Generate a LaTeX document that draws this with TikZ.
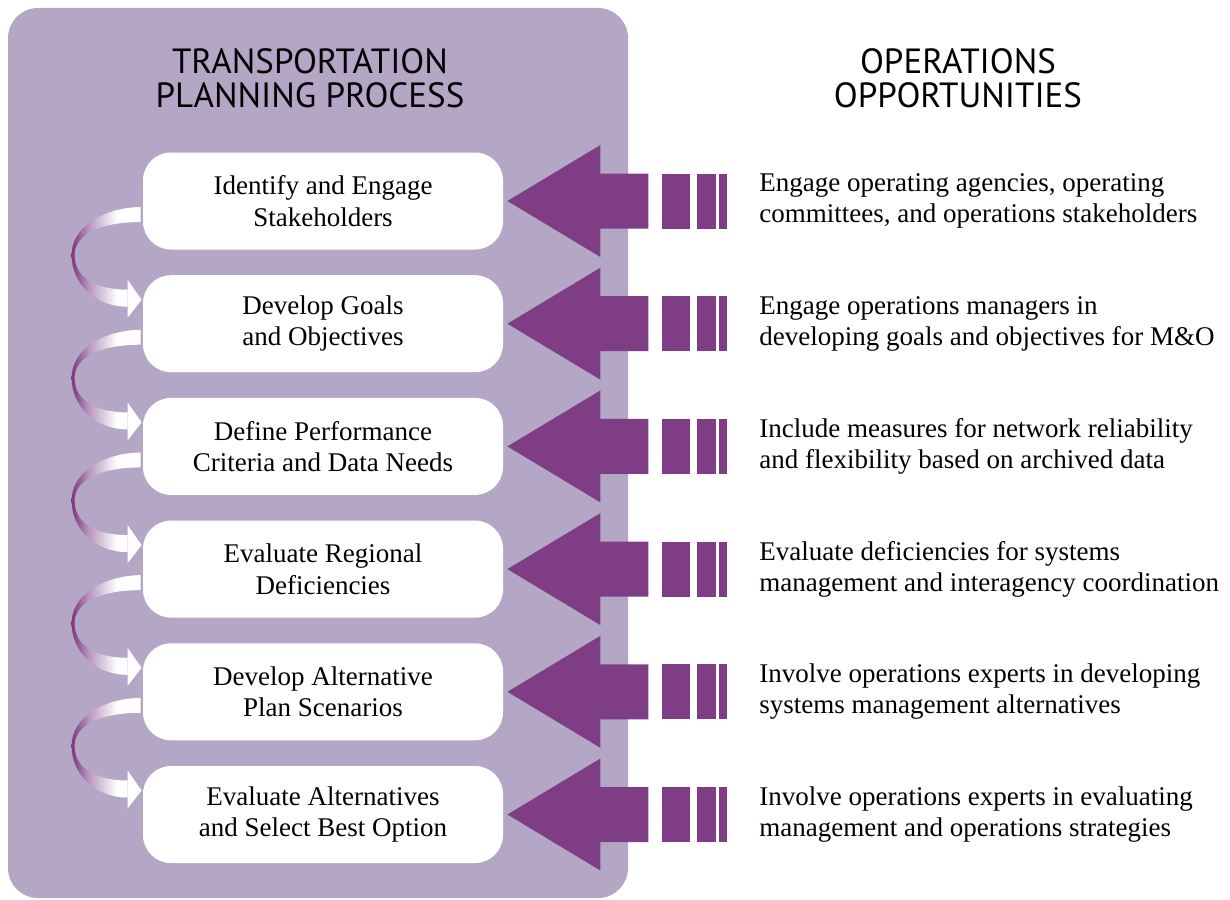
\documentclass[tikz,border=0pt]{standalone}
\usepackage{fontspec}
\setmainfont{Liberation Serif}
\newfontfamily\headfont{PT Sans}
\usetikzlibrary{calc}

\definecolor{panelpurple}{RGB}{180,167,197}
\definecolor{arrowpurple}{RGB}{126,61,132}
\pgfdeclarehorizontalshading{ribbon}{100bp}{color(0bp)=(arrowpurple); color(26bp)=(arrowpurple); color(37bp)=(arrowpurple!55!white); color(58bp)=(white); color(100bp)=(white)}

\begin{document}
\begin{tikzpicture}[x=0.5pt, y=-0.5pt,
    stepbox/.style={fill=white, rounded corners=14pt, minimum width=180pt, minimum height=48.5pt,
        align=center, inner sep=0pt, font=\fontsize{13.5}{15.7}\selectfont},
    note/.style={anchor=west, align=left, inner sep=0pt, font=\fontsize{13.5}{15.7}\selectfont},
    header/.style={align=center, inner sep=0pt, font=\headfont\fontsize{17.5}{17}\selectfont},
    bigarrow/.style={fill=arrowpurple}]
    \useasboundingbox (0,0) rectangle (1230,899);

    % Planning panel
    \fill[panelpurple, rounded corners=15pt] (8,8) rectangle (628,898);
    \node[header] (planhead) at (310,78) {TRANSPORTATION\\PLANNING PROCESS};
    \node[header] (opphead) at (958,78) {OPERATIONS\\OPPORTUNITIES};

    % Steps, arrows and opportunities
    \foreach \i/\steptext/\opptext in {
        1/{Identify and Engage\\Stakeholders}/{Engage operating agencies, operating\\committees, and operations stakeholders},
        2/{Develop Goals\\and Objectives}/{Engage operations managers in\\developing goals and objectives for M\&O},
        3/{Define Performance\\Criteria and Data Needs}/{Include measures for network reliability\\and flexibility based on archived data},
        4/{Evaluate Regional\\Deficiencies}/{Evaluate deficiencies for systems\\management and interagency coordination},
        5/{Develop Alternative\\Plan Scenarios}/{Involve operations experts in developing\\systems management alternatives},
        6/{Evaluate Alternatives\\and Select Best Option}/{Involve operations experts in evaluating\\management and operations strategies}} {
        \pgfmathsetmacro{\cy}{201+122.7*(\i-1)}
        \node[stepbox] (b\i) at (323,\cy) {\steptext};
        \node[note] (o\i) at (759,\cy) {\opptext};
        \fill[bigarrow] ($(b\i.east)+(4,0)$) -- ++(93,-56) -- ++(0,28.5) -- ++(48,0)
            -- ++(0,55) -- ++(-48,0) -- ++(0,28.5) -- cycle;
        \fill[bigarrow] ($(b\i.east)+(159,-27.5)$) rectangle ++(28,55);
        \fill[bigarrow] ($(b\i.east)+(194,-27.5)$) rectangle ++(19,55);
        \fill[bigarrow] ($(b\i.east)+(216,-27.5)$) rectangle ++(8,55);
    }

    % Curved links between steps
    \foreach \i [evaluate=\i as \j using int(\i+1)] in {1,...,5} {
        \shade[shading=ribbon]
            ($(b\i.west)+(-2,6)$) .. controls +(-41,1) and +(0,-26) .. ($(b\i.west)+(-71,54)$)
            .. controls +(0,28) and +(-33,0) .. ($(b\j.west)+(-15,-17)$)
            -- ($(b\j.west)+(-15,-34)$)
            .. controls +(-30,0) and +(0,24) .. ($(b\i.west)+(-68,54)$)
            .. controls +(0,-20) and +(-41,0) .. ($(b\i.west)+(-2,21)$) -- cycle;
        \fill[white] ($(b\j.west)+(-15,-44)$) -- ($(b\j.west)+(-1,-24)$)
            -- ($(b\j.west)+(-15,-6)$) -- cycle;
    }
\end{tikzpicture}
\end{document}
